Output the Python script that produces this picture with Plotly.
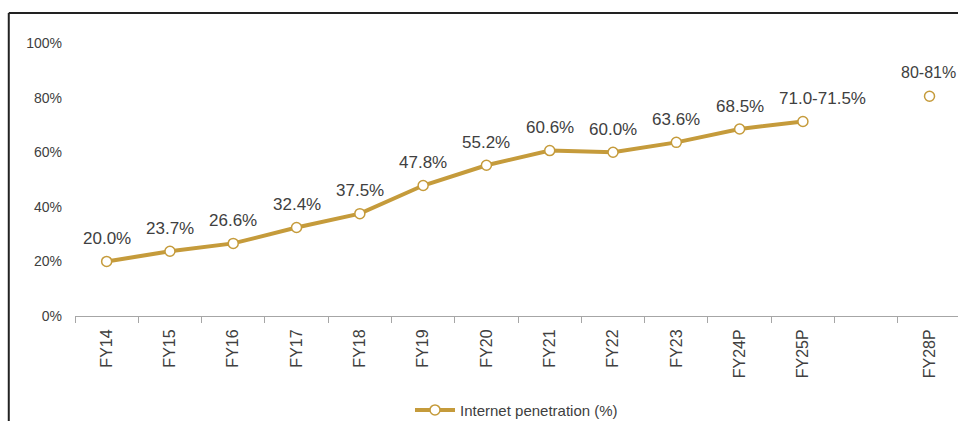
import plotly.graph_objects as go

# ---- data ----
categories = ["FY14", "FY15", "FY16", "FY17", "FY18", "FY19", "FY20", "FY21",
              "FY22", "FY23", "FY24P", "FY25P", " ", "FY28P"]
hist_cats = ["FY14", "FY15", "FY16", "FY17", "FY18", "FY19", "FY20", "FY21",
             "FY22", "FY23", "FY24P", "FY25P"]
hist_vals = [20.0, 23.7, 26.6, 32.4, 37.5, 47.8, 55.2, 60.6, 60.0, 63.6, 68.5, 71.25]
hist_labels = ["20.0%", "23.7%", "26.6%", "32.4%", "37.5%", "47.8%", "55.2%",
               "60.6%", "60.0%", "63.6%", "68.5%", "71.0-71.5%"]
proj_cats = ["FY28P"]
proj_vals = [80.5]
proj_labels = ["80-81%"]
y_ticks = [0, 20, 40, 60, 80, 100]
y_tick_text = ["0%", "20%", "40%", "60%", "80%", "100%"]
series_name = "Internet penetration (%)"

# ---- style ----
GOLD = "#C59B3B"
TXT = "#404040"
FONT = "Liberation Sans, Arial, sans-serif"

fig = go.Figure()
fig.add_trace(go.Scatter(
    x=hist_cats, y=hist_vals, mode="lines+markers", name=series_name,
    line=dict(color=GOLD, width=4),
    marker=dict(size=10, color="white", line=dict(color=GOLD, width=1.5)),
    cliponaxis=False,
))
fig.add_trace(go.Scatter(
    x=proj_cats, y=proj_vals, mode="markers", showlegend=False,
    marker=dict(size=10, color="white", line=dict(color=GOLD, width=1.5)),
    cliponaxis=False,
))

# data labels
for c, v, t in zip(hist_cats, hist_vals, hist_labels):
    xs = 20 if t == "71.0-71.5%" else 0
    fig.add_annotation(x=c, y=v, text=t, showarrow=False, xshift=xs, yshift=23,
                       font=dict(family=FONT, size=17, color=TXT))
for c, v, t in zip(proj_cats, proj_vals, proj_labels):
    fig.add_annotation(x=c, y=v, text=t, showarrow=False, yshift=24, xshift=-1,
                       font=dict(family=FONT, size=16, color=TXT))

# frame border (partially visible box)
fig.add_shape(type="line", xref="paper", yref="paper", x0=-0.075, x1=1.2,
              y0=1.11, y1=1.11, line=dict(color="#222222", width=2))
fig.add_shape(type="line", xref="paper", yref="paper", x0=-0.075, x1=-0.075,
              y0=1.11, y1=-0.6, line=dict(color="#222222", width=2))

fig.update_layout(
    width=958, height=421,
    margin=dict(l=75, r=0, t=43, b=105, autoexpand=False),
    paper_bgcolor="white", plot_bgcolor="white",
    font=dict(family=FONT, color=TXT),
    showlegend=True,
    legend=dict(orientation="h", x=0.5, xanchor="center", y=-0.345, yanchor="middle",
                font=dict(family=FONT, size=15, color=TXT), itemwidth=40,
                bgcolor="rgba(0,0,0,0)"),
)
fig.update_xaxes(
    type="category", categoryorder="array", categoryarray=categories,
    range=[-0.5, 13.45], showgrid=False, showline=True, linecolor="#A6A6A6",
    linewidth=1, ticks="outside", tickson="boundaries", ticklen=6,
    tickcolor="#A6A6A6", tickangle=-90, ticklabelstandoff=6, automargin=False,
    tickfont=dict(family=FONT, size=16, color=TXT),
    zeroline=False,
)
fig.update_yaxes(
    range=[0, 100], tickvals=y_ticks, ticktext=y_tick_text, showgrid=False,
    showline=False, zeroline=False, ticks="", ticklabelstandoff=12, automargin=False,
    tickfont=dict(family=FONT, size=14, color=TXT),
)

fig.write_html("out.html", config={"displayModeBar": False},
               post_script="document.body.style.margin='0';document.body.style.overflow='hidden';")
